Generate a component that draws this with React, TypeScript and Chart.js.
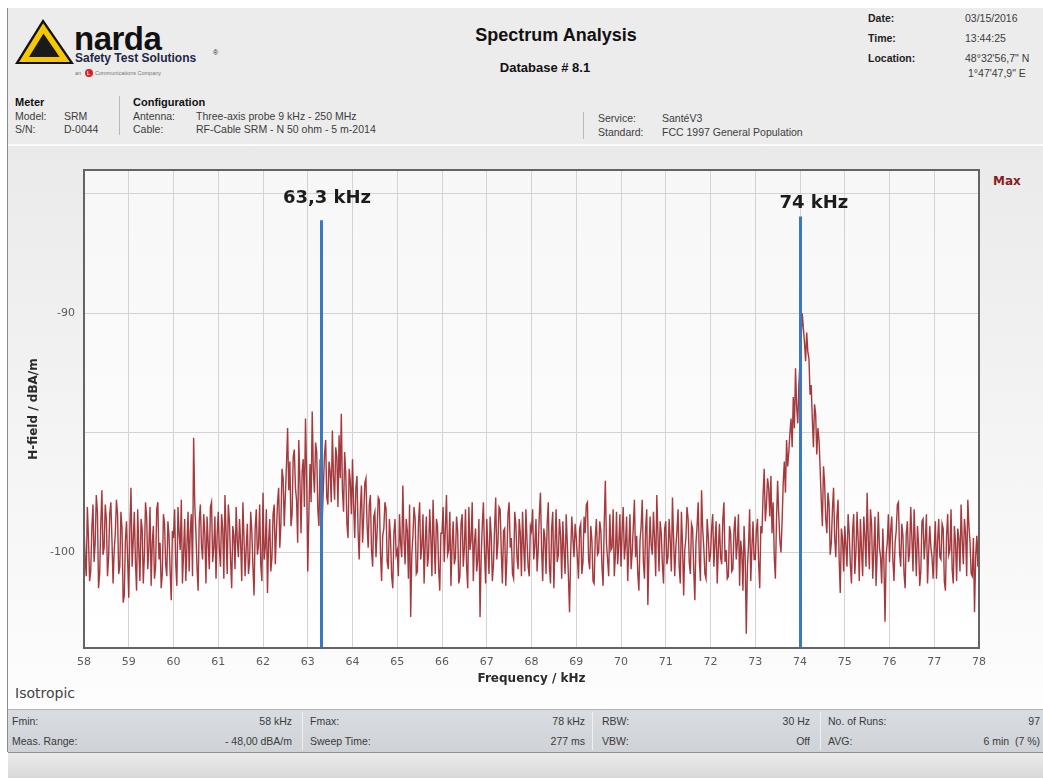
import React, { useEffect, useRef } from "react";
import { Chart, registerables } from "chart.js";

Chart.register(...registerables);

// ---- data ----
const F_START_KHZ = 58;
const F_STEP_KHZ = 0.025;
const H_FIELD_DBAM: number[] = [
  // 58 kHz
  -98.9, -100.2, -101.0, -98.1, -99.4, -101.2, -100.8, -99.0, -98.0, -100.4, -99.6, -97.6, -98.3, -101.5, -100.9, -98.8, -97.4, -100.1, -99.8, -98.0,
  -98.6, -101.0, -100.2, -98.4, -97.9, -99.5, -101.3, -99.9, -99.2, -97.8, -98.4, -100.9, -100.6, -98.3, -99.0, -102.1, -101.8, -99.5, -98.7, -100.3,
  // 59
  -101.9, -99.0, -97.3, -100.6, -99.5, -98.3, -100.4, -101.6, -98.2, -99.9, -101.2, -98.6, -99.0, -101.3, -100.1, -97.9, -98.5, -100.7, -99.8, -98.1,
  -101.4, -99.6, -98.9, -101.1, -100.6, -98.2, -97.9, -100.3, -99.6, -101.5, -100.9, -98.4, -98.8, -100.5, -101.0, -98.7, -99.3, -100.8, -102.0, -99.1,
  // 60
  -99.4, -98.2, -100.5, -101.4, -98.1, -99.2, -99.9, -97.8, -101.3, -100.0, -98.6, -101.2, -99.7, -98.3, -100.8, -99.1, -98.4, -101.0, -95.2, -98.0,
  -99.1, -100.6, -101.6, -98.7, -98.0, -99.7, -100.3, -98.4, -99.2, -101.3, -98.5, -99.6, -100.7, -98.1, -97.9, -100.4, -99.8, -98.5, -101.1, -99.3,
  // 61
  -98.3, -99.9, -100.6, -98.4, -99.0, -101.1, -97.6, -99.2, -100.9, -98.0, -98.7, -100.3, -101.5, -98.9, -99.3, -100.7, -98.1, -99.5, -100.2, -98.6,
  -99.6, -101.2, -97.9, -99.4, -101.0, -99.8, -98.8, -100.9, -100.4, -98.3, -99.1, -100.6, -101.8, -99.0, -98.2, -100.1, -99.7, -98.0, -100.5, -101.2,
  // 62
  -97.5, -100.3, -99.8, -98.2, -101.7, -99.6, -98.6, -100.8, -100.2, -98.4, -98.0, -100.5, -99.1, -97.9, -97.3, -99.8, -98.8, -96.5, -96.9, -98.9,
  -97.6, -96.3, -94.8, -97.4, -96.2, -98.9, -98.4, -96.0, -95.7, -97.3, -97.8, -99.6, -95.3, -97.0, -99.2, -96.6, -96.1, -98.1, -94.4, -96.8,
  // 63
  -100.8, -98.4, -96.3, -97.9, -94.1, -96.6, -97.5, -95.4, -95.8, -98.2, -98.9, -96.1, -96.4, -98.6, -97.2, -95.9, -95.3, -97.7, -98.0, -96.2,
  -96.6, -97.9, -94.9, -96.8, -97.8, -95.6, -96.0, -98.1, -95.1, -96.9, -94.2, -97.4, -98.3, -95.8, -96.7, -98.8, -99.4, -96.5, -97.0, -98.4,
  // 64
  -96.1, -98.0, -99.4, -97.3, -96.8, -99.1, -100.3, -98.2, -97.2, -99.6, -98.5, -97.1, -96.9, -98.8, -99.8, -98.0, -97.6, -99.9, -100.6, -98.5,
  -98.3, -100.2, -99.1, -97.7, -97.8, -100.0, -101.2, -99.3, -99.0, -97.9, -98.2, -100.4, -100.7, -98.6, -99.4, -101.0, -101.5, -99.2, -98.6, -100.1,
  // 65
  -99.9, -101.0, -98.4, -99.6, -100.2, -97.2, -99.4, -100.5, -98.6, -99.1, -101.1, -98.0, -102.7, -100.1, -99.3, -98.1, -98.6, -100.9, -100.8, -98.7,
  -97.9, -100.3, -99.7, -98.4, -101.3, -99.6, -98.5, -100.6, -100.1, -98.2, -99.4, -101.0, -97.8, -99.5, -100.9, -98.6, -98.9, -100.7, -101.6, -99.2,
  // 66
  -99.2, -98.1, -100.4, -99.0, -97.6, -100.1, -99.9, -98.3, -101.4, -99.7, -98.7, -100.5, -100.2, -98.5, -99.1, -101.3, -101.0, -98.8, -98.4, -100.6,
  -99.8, -98.2, -100.6, -101.5, -98.1, -99.9, -99.5, -97.9, -101.2, -99.6, -99.0, -100.8, -100.3, -98.6, -102.7, -100.2, -98.9, -97.9, -100.0, -101.3,
  // 67
  -98.6, -99.8, -100.9, -98.5, -99.3, -101.2, -100.5, -99.0, -97.7, -100.3, -99.6, -98.1, -98.2, -100.0, -101.3, -99.1, -99.0, -101.4, -100.2, -98.4,
  -97.9, -99.8, -99.4, -100.9, -101.1, -98.3, -98.8, -100.2, -100.7, -98.6, -99.2, -101.0, -98.3, -99.7, -100.8, -98.2, -99.5, -100.6, -101.0, -98.9,
  // 68
  -99.1, -98.2, -100.3, -99.7, -98.6, -100.8, -99.9, -98.4, -97.5, -99.8, -101.2, -99.0, -99.4, -100.9, -98.8, -97.9, -100.6, -101.3, -99.0, -98.3,
  -101.5, -99.7, -98.2, -100.4, -100.1, -98.6, -99.3, -101.1, -98.7, -99.9, -100.9, -98.4, -99.6, -101.0, -102.5, -100.1, -98.5, -99.4, -100.2, -98.8,
  // 69
  -99.4, -100.2, -101.1, -99.0, -98.8, -100.9, -100.4, -98.5, -99.2, -98.0, -97.9, -100.3, -100.7, -98.9, -99.5, -101.2, -101.3, -99.4, -98.6, -100.1,
  -100.0, -98.7, -99.1, -100.6, -101.4, -98.8, -97.0, -99.6, -100.3, -101.0, -98.4, -99.9, -99.8, -98.2, -101.0, -100.1, -98.3, -100.5, -99.7, -98.4,
  // 70
  -100.6, -99.2, -98.1, -100.3, -99.7, -98.5, -101.2, -99.8, -98.4, -100.7, -100.0, -98.9, -97.8, -100.2, -99.3, -100.9, -101.6, -99.5, -98.9, -97.8,
  -100.4, -101.1, -99.0, -98.2, -102.2, -100.0, -98.5, -99.7, -100.1, -98.3, -99.4, -101.0, -97.6, -99.2, -100.8, -98.7, -99.2, -100.5, -101.3, -99.0,
  // 71
  -98.7, -100.5, -100.2, -98.6, -99.5, -100.8, -97.7, -99.4, -101.0, -99.8, -99.1, -98.2, -100.6, -101.3, -98.3, -99.7, -101.8, -99.9, -99.4, -98.1,
  -98.6, -100.4, -100.9, -98.8, -99.0, -100.7, -102.0, -99.6, -98.9, -97.9, -100.3, -101.2, -97.4, -99.0, -99.8, -100.9, -101.1, -98.6, -99.3, -100.4,
  // 72
  -100.1, -99.0, -98.4, -100.6, -99.6, -98.7, -101.3, -99.9, -98.8, -100.2, -100.5, -98.6, -97.9, -100.4, -99.9, -101.1, -101.0, -98.9, -99.2, -100.8,
  -100.7, -99.1, -98.5, -100.3, -99.6, -98.4, -101.4, -99.5, -100.0, -101.6, -98.9, -100.2, -103.4, -100.6, -99.7, -98.2, -101.2, -99.8, -98.7, -100.3,
  // 73
  -100.3, -99.1, -98.6, -100.4, -101.5, -98.9, -99.2, -97.6, -96.5, -98.7, -98.0, -96.9, -97.3, -98.5, -96.8, -99.2, -97.9, -100.2, -101.1, -98.6,
  -97.0, -98.4, -99.5, -100.0, -98.7, -97.1, -96.2, -97.5, -95.3, -96.4, -95.8, -95.0, -94.4, -95.6, -93.5, -94.8, -92.3, -93.9, -94.6, -93.0,
  // 74
  -92.0, -91.1, -90.0, -90.6, -91.2, -92.0, -90.8, -91.6, -91.9, -93.4, -93.0, -94.4, -95.6, -93.8, -94.2, -95.9, -94.8, -95.3, -96.5, -97.8,
  -98.9, -96.4, -97.1, -98.6, -99.2, -97.5, -98.0, -100.1, -99.6, -98.2, -97.3, -99.4, -100.2, -98.5, -97.8, -100.3, -101.7, -99.0, -99.4, -100.8,
  // 75
  -98.9, -99.7, -100.6, -98.4, -99.2, -100.5, -101.3, -99.1, -98.4, -100.9, -100.0, -98.3, -99.5, -101.2, -98.6, -99.9, -101.0, -98.5, -99.3, -100.6,
  -97.5, -99.4, -100.7, -98.2, -98.8, -101.1, -99.9, -98.5, -101.4, -100.0, -98.3, -99.8, -100.2, -101.3, -99.0, -100.4, -102.9, -100.1, -99.6, -98.4,
  // 76
  -100.4, -99.1, -98.5, -100.3, -101.2, -99.6, -99.1, -98.0, -97.9, -100.0, -100.6, -98.8, -99.3, -100.9, -101.5, -99.2, -98.7, -100.4, -100.0, -98.1,
  -99.4, -100.8, -98.2, -99.6, -101.0, -98.9, -99.7, -101.4, -100.8, -98.7, -98.6, -100.3, -99.5, -98.4, -101.3, -100.0, -98.9, -99.8, -100.2, -101.1,
  // 77 .. 78
  -99.8, -98.7, -101.1, -99.5, -98.6, -100.2, -100.3, -98.8, -99.0, -101.2, -101.6, -99.3, -98.4, -100.1, -99.9, -98.2, -100.7, -101.3, -98.9, -99.6,
  -101.2, -99.0, -99.4, -100.8, -98.0, -99.5, -100.5, -98.6, -99.2, -101.0, -97.8, -98.9, -99.6, -100.9, -101.0, -99.4, -102.5, -100.2, -99.3, -100.6,
  -98.6,
];

const X_TICKS = [58, 59, 60, 61, 62, 63, 64, 65, 66, 67, 68, 69, 70, 71, 72, 73, 74, 75, 76, 77, 78];
const Y_GRID = [-100, -95, -90, -85];
const Y_LABELED = [-90, -100];
const X_RANGE = [58, 78];
const Y_RANGE = [-104, -84];

const MARKER_FREQS = [63.3, 74];
const MARKER_TOPS = [-86.1, -85.95];
const MARKER_LABELS = ["63,3 kHz", "74 kHz"];
const MARKER_LABEL_FREQS = [63.43, 74.31];
const MARKER_LABEL_LEVELS = [-85.4, -85.58];

const HEADER_LEFT_ROWS = [
  ["Model:", "SRM", "Antenna:", "Three-axis probe 9 kHz - 250 MHz"],
  ["S/N:", "D-0044", "Cable:", "RF-Cable SRM - N 50 ohm - 5 m-2014"],
];
const HEADER_SERVICE_ROWS = [
  ["Service:", "SantéV3"],
  ["Standard:", "FCC 1997 General Population"],
];
const HEADER_RIGHT_ROWS = [
  ["Date:", "03/15/2016"],
  ["Time:", "13:44:25"],
  ["Location:", "48°32'56,7\" N"],
  ["", "1°47'47,9\" E"],
];
const FOOTER_ROWS = [
  ["Fmin:", "58 kHz", "Fmax:", "78 kHz", "RBW:", "30 Hz", "No. of Runs:", "97"],
  ["Meas. Range:", "- 48,00 dBA/m", "Sweep Time:", "277 ms", "VBW:", "Off", "AVG:", "6 min  (7 %)"],
];

const plotDecor = {
  id: "plotDecor",
  beforeDraw(chart: any) {
    const { ctx, chartArea: a } = chart;
    ctx.save();
    const g = ctx.createLinearGradient(0, a.top, 0, a.bottom);
    g.addColorStop(0, "#f7f7f7");
    g.addColorStop(1, "#ffffff");
    ctx.fillStyle = g;
    ctx.fillRect(a.left, a.top, a.right - a.left, a.bottom - a.top);
    ctx.restore();
  },
  afterDatasetsDraw(chart: any) {
    const { ctx, chartArea: a, scales } = chart;
    const x = scales.x;
    const y = scales.y;
    ctx.save();
    ctx.strokeStyle = "#3a78c2";
    ctx.lineWidth = 3;
    MARKER_FREQS.forEach((f, i) => {
      const px = Math.round(x.getPixelForValue(f)) + 0.5;
      ctx.beginPath();
      ctx.moveTo(px, y.getPixelForValue(MARKER_TOPS[i]));
      ctx.lineTo(px, a.bottom);
      ctx.stroke();
    });
    ctx.fillStyle = "#1c1c1c";
    ctx.font = 'bold 18px "DejaVu Sans"';
    ctx.textAlign = "center";
    ctx.textBaseline = "alphabetic";
    MARKER_LABELS.forEach((t, i) => {
      ctx.fillText(t, x.getPixelForValue(MARKER_LABEL_FREQS[i]), y.getPixelForValue(MARKER_LABEL_LEVELS[i]));
    });
    ctx.strokeStyle = "#646464";
    ctx.lineWidth = 2;
    ctx.strokeRect(a.left, a.top, a.right - a.left, a.bottom - a.top);
    ctx.restore();
  },
};

function SpectrumChart() {
  const ref = useRef<HTMLCanvasElement | null>(null);
  useEffect(() => {
    if (!ref.current) return;
    const points = H_FIELD_DBAM.map((v, i) => ({ x: F_START_KHZ + i * F_STEP_KHZ, y: v }));
    const chart = new Chart(ref.current, {
      type: "line",
      data: {
        datasets: [
          {
            data: points,
            borderColor: "rgba(148,22,28,0.85)",
            borderWidth: 1.4,
            pointRadius: 0,
            tension: 0,
            fill: false,
          },
        ],
      },
      options: {
        animation: false,
        responsive: false,
        maintainAspectRatio: false,
        layout: { padding: { left: 0, top: 25, right: 64, bottom: 13 } },
        plugins: { legend: { display: false }, tooltip: { enabled: false } },
        scales: {
          x: {
            type: "linear",
            min: X_RANGE[0],
            max: X_RANGE[1],
            afterBuildTicks: (s: any) => {
              s.ticks = X_TICKS.map((v) => ({ value: v }));
            },
            afterFit: (s: any) => {
              s.height = 45;
            },
            ticks: {
              autoSkip: false,
              maxRotation: 0,
              padding: 8,
              color: "#5a5a5a",
              font: { family: "DejaVu Sans", size: 11 },
              callback: (v: any) => String(v),
            },
            grid: { color: "#d3d3d3", drawTicks: false, lineWidth: 1 },
            border: { display: false },
            title: {
              display: true,
              text: "Frequency / kHz",
              color: "#2a2a2a",
              font: { family: "DejaVu Sans", size: 12, weight: "bold" },
              padding: { top: 0, bottom: 7 },
            },
          },
          y: {
            type: "linear",
            min: Y_RANGE[0],
            max: Y_RANGE[1],
            afterBuildTicks: (s: any) => {
              s.ticks = Y_GRID.map((v) => ({ value: v }));
            },
            afterFit: (s: any) => {
              s.width = 76;
            },
            ticks: {
              padding: 9,
              color: "#5a5a5a",
              font: { family: "DejaVu Sans", size: 11 },
              callback: (v: any) => (Y_LABELED.includes(Number(v)) ? String(v) : ""),
            },
            grid: { color: "#d3d3d3", drawTicks: false, lineWidth: 1 },
            border: { display: false },
            title: {
              display: true,
              text: "H-field / dBA/m",
              color: "#2a2a2a",
              font: { family: "DejaVu Sans", size: 12, weight: "bold" },
              padding: { top: 19, bottom: 0 },
            },
          },
        },
      },
      plugins: [plotDecor],
    } as any);
    return () => chart.destroy();
  }, []);
  return (
    <canvas
      ref={ref}
      width={1035}
      height={561}
      style={{ position: "absolute", left: 8, top: 145, width: 1035, height: 561 }}
    />
  );
}

const SANS = "'Liberation Sans', Arial, sans-serif";

function Background() {
  const cx = 44;
  const cy = 49.3;
  const tri = "15,64 43,19 74,64";
  return (
    <svg width={1043} height={778} style={{ position: "absolute", left: 0, top: 0 }} fontFamily={SANS}>
      <defs>
        <linearGradient id="panelG" x1="0" y1="0" x2="0" y2="1">
          <stop offset="0" stopColor="#eaeaea" />
          <stop offset="1" stopColor="#fdfdfd" />
        </linearGradient>
        <linearGradient id="bottomG" x1="0" y1="0" x2="0" y2="1">
          <stop offset="0" stopColor="#ebebeb" />
          <stop offset="1" stopColor="#d8d8d8" />
        </linearGradient>
        <linearGradient id="footG" x1="0" y1="0" x2="0" y2="1">
          <stop offset="0" stopColor="#d9dce0" />
          <stop offset="1" stopColor="#cfd2d7" />
        </linearGradient>
      </defs>
      <rect x={0} y={0} width={1043} height={778} fill="#ffffff" />
      <rect x={8} y={8} width={1035} height={136} fill="#ececec" />
      <rect x={8} y={144} width={1035} height={2} fill="#fbfbfb" />
      <rect x={8} y={146} width={1035} height={560} fill="url(#panelG)" />
      <rect x={8} y={706} width={1035} height={3} fill="#ffffff" />
      <rect x={8} y={709} width={1035} height={1} fill="#b4b4b4" />
      <rect x={8} y={710} width={1035} height={42} fill="url(#footG)" />
      <rect x={8} y={752} width={1035} height={1} fill="#8e8e8e" />
      <rect x={8} y={753} width={1035} height={25} fill="url(#bottomG)" />
      <line x1={7.5} y1={8} x2={7.5} y2={752} stroke="#8c8c8c" strokeWidth={1} />

      {/* logo */}
      <polygon points={tri} fill="#111" />
      <polygon points={tri} fill="#f5c800" transform={`translate(${cx},${cy}) scale(0.86) translate(${-cx},${-cy})`} />
      <polygon points={tri} fill="#1a1a1a" transform={`translate(${cx},${cy}) scale(0.52) translate(${-cx},${-cy})`} />
      <text x={74} y={50} fontSize={33} fontWeight="bold" fill="#111" letterSpacing={-0.5}>narda</text>
      <text x={75} y={62} fontSize={12} fontWeight="bold" fill="#1d2846">Safety Test Solutions</text>
      <text x={213} y={55} fontSize={7} fill="#1d2846">®</text>
      <text x={75} y={75} fontSize={5.5} fill="#777">an</text>
      <circle cx={89} cy={73} r={4} fill="#d82020" />
      <text x={87} y={75} fontSize={5} fill="#fff" fontWeight="bold">L</text>
      <text x={95} y={75} fontSize={5.5} fill="#777">Communications Company</text>

      {/* meter & configuration */}
      <text x={15} y={106} fontSize={11} fontWeight="bold" fill="#111">Meter</text>
      <text x={133} y={106} fontSize={11} fontWeight="bold" fill="#111">Configuration</text>
      <line x1={119.5} y1={96} x2={119.5} y2={135} stroke="#b8b8b8" />
      {HEADER_LEFT_ROWS.map((r, i) => (
        <g key={"hl" + i} fontSize={10.5} fill="#3c3c3c">
          <text x={15} y={120 + i * 13}>{r[0]}</text>
          <text x={64} y={120 + i * 13}>{r[1]}</text>
          <text x={133} y={120 + i * 13}>{r[2]}</text>
          <text x={196} y={120 + i * 13}>{r[3]}</text>
        </g>
      ))}
      <line x1={583.5} y1={112} x2={583.5} y2={139} stroke="#b8b8b8" />
      {HEADER_SERVICE_ROWS.map((r, i) => (
        <g key={"hs" + i} fontSize={10.5} fill="#3c3c3c">
          <text x={598} y={122 + i * 14}>{r[0]}</text>
          <text x={662} y={122 + i * 14}>{r[1]}</text>
        </g>
      ))}

      {/* title */}
      <text x={556} y={41} fontSize={18} fontWeight="bold" fill="#111" textAnchor="middle">Spectrum Analysis</text>
      <text x={545} y={72} fontSize={13} fontWeight="bold" fill="#111" textAnchor="middle">Database # 8.1</text>

      {/* date / time / location */}
      {HEADER_RIGHT_ROWS.map((r, i) => (
        <g key={"hr" + i} fontSize={10.5}>
          <text x={868} y={i < 3 ? 22 + i * 20 : 77} fontWeight="bold" fill="#222">{r[0]}</text>
          <text x={i < 3 ? 965 : 968} y={i < 3 ? 22 + i * 20 : 77} fill="#3c3c3c">{r[1]}</text>
        </g>
      ))}

      {/* chart side texts */}
      <text x={993} y={185} fontSize={12} fontWeight="bold" fill="#8c1c24" fontFamily="DejaVu Sans">Max</text>
      <text x={15} y={698} fontSize={14} fill="#444" fontFamily="DejaVu Sans">Isotropic</text>

      {/* footer */}
      {[302.5, 592.5, 820.5].map((sx) => (
        <line key={sx} x1={sx} y1={712} x2={sx} y2={750} stroke="#eef0f2" />
      ))}
      {FOOTER_ROWS.map((r, i) => {
        const y = 725 + i * 20;
        return (
          <g key={"f" + i} fontSize={10.5} fill="#3a3a3a">
            <text x={12} y={y}>{r[0]}</text>
            <text x={292} y={y} textAnchor="end">{r[1]}</text>
            <text x={310} y={y}>{r[2]}</text>
            <text x={585} y={y} textAnchor="end">{r[3]}</text>
            <text x={602} y={y}>{r[4]}</text>
            <text x={810} y={y} textAnchor="end">{r[5]}</text>
            <text x={828} y={y}>{r[6]}</text>
            <text x={1040} y={y} textAnchor="end" style={{ whiteSpace: "pre" }}>{r[7]}</text>
          </g>
        );
      })}
    </svg>
  );
}

export default function App() {
  useEffect(() => {
    document.body.style.margin = "0";
  }, []);
  return (
    <div style={{ position: "fixed", left: 0, top: 0, width: 1043, height: 778, overflow: "hidden", background: "#fff" }}>
      <Background />
      <SpectrumChart />
    </div>
  );
}
